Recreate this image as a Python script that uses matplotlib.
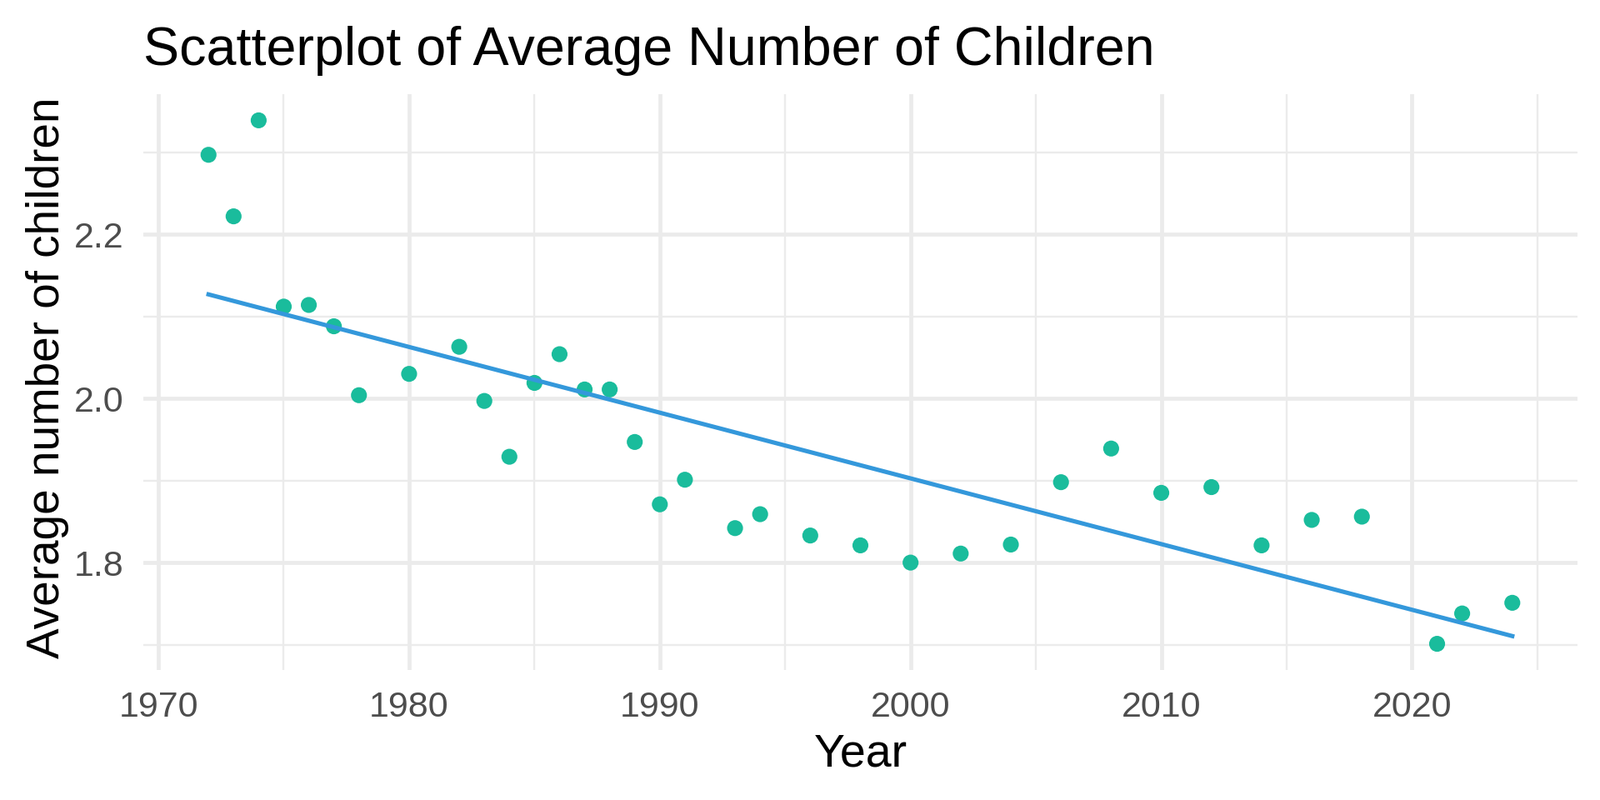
import numpy as np
import matplotlib.pyplot as plt
from matplotlib.ticker import FixedLocator

plt.rcParams['font.family'] = ['Liberation Sans', 'DejaVu Sans']

# Survey years and the average number of children
years = [1972, 1973, 1974, 1975, 1976, 1977, 1978, 1980, 1982, 1983,
         1984, 1985, 1986, 1987, 1988, 1989, 1990, 1991, 1993, 1994,
         1996, 1998, 2000, 2002, 2004, 2006, 2008, 2010, 2012, 2014,
         2016, 2018, 2021, 2022, 2024]
avg_children = [2.297, 2.222, 2.339, 2.112, 2.114, 2.088, 2.004, 2.030, 2.063, 1.997,
                1.929, 2.019, 2.054, 2.011, 2.011, 1.947, 1.871, 1.901, 1.842, 1.859,
                1.833, 1.821, 1.800, 1.811, 1.822, 1.898, 1.939, 1.885, 1.892, 1.821,
                1.852, 1.856, 1.701, 1.738, 1.751]

x_major = [1970, 1980, 1990, 2000, 2010, 2020]
x_minor = [1975, 1985, 1995, 2005, 2015, 2025]
y_major = [1.8, 2.0, 2.2]
y_minor = [1.7, 1.9, 2.1, 2.3]

POINT_COLOR = '#1ABC9C'
LINE_COLOR = '#3498DB'
GRID_COLOR = '#EBEBEB'
W, H = 1920, 960


def main() -> None:
    x = np.array(years, dtype=float)
    y = np.array(avg_children)

    fig = plt.figure(figsize=(W / 100, H / 100), dpi=100)
    left, right, top, bottom = 172, 1893, 113, 804
    ax = fig.add_axes([left / W, 1 - bottom / H, (right - left) / W, (bottom - top) / H])

    ax.scatter(x, y, s=190, color=POINT_COLOR, edgecolors='none', zorder=2)

    # linear trend, like geom_smooth(method = "lm", se = FALSE)
    slope, intercept = np.polyfit(x, y, 1)
    xs = np.linspace(x.min(), x.max(), 100)
    ax.plot(xs, slope * xs + intercept, color=LINE_COLOR, linewidth=3.7, zorder=3)

    # ggplot default 5% expansion
    xr = x.max() - x.min()
    yr = y.max() - y.min()
    ax.set_xlim(x.min() - 0.05 * xr, x.max() + 0.05 * xr)
    ax.set_ylim(y.min() - 0.05 * yr, y.max() + 0.05 * yr)

    ax.xaxis.set_major_locator(FixedLocator(x_major))
    ax.xaxis.set_minor_locator(FixedLocator(x_minor))
    ax.yaxis.set_major_locator(FixedLocator(y_major))
    ax.yaxis.set_minor_locator(FixedLocator(y_minor))
    ax.set_xticklabels([str(v) for v in x_major])
    ax.set_yticklabels([f'{v:.1f}' for v in y_major])

    ax.grid(which='major', color=GRID_COLOR, linewidth=3.4)
    ax.grid(which='minor', color=GRID_COLOR, linewidth=1.7)
    ax.set_axisbelow(True)
    for s in ax.spines.values():
        s.set_visible(False)
    ax.tick_params(which='both', length=0)
    ax.tick_params(axis='x', pad=18, labelsize=31, labelcolor='#4D4D4D')
    ax.tick_params(axis='y', pad=17, labelsize=31, labelcolor='#4D4D4D')

    fig.text(left / W, 1 - 78 / H, 'Scatterplot of Average Number of Children',
             fontsize=46.5, color='black', ha='left', va='baseline')
    fig.text((left + right) / 2 / W, 1 - 906 / H, 'Year',
             fontsize=40, color='black', ha='center', va='center')
    fig.text(57 / W, 1 - 453 / H, 'Average number of children',
             fontsize=39.5, color='black', ha='center', va='center', rotation=90)

    fig.savefig('out.png', dpi=100, facecolor='white')


if __name__ == '__main__':
    main()
